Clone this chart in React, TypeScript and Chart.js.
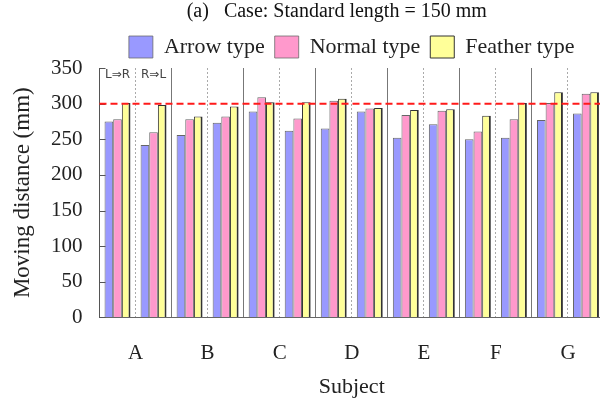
import React, { useEffect, useRef } from "react";
import { Chart, registerables } from "chart.js";

Chart.register(...registerables);

const subjects = ["A", "B", "C", "D", "E", "F", "G"];
const directions = ["L⇒R", "R⇒L"];
const seriesNames = ["Arrow type", "Normal type", "Feather type"];
const arrowType = [275, 242, 256, 273, 289, 262, 265, 289, 252, 271, 250, 252, 277, 286];
const normalType = [278, 260, 278, 282, 309, 279, 304, 293, 284, 290, 261, 278, 301, 314];
const featherType = [301, 298, 282, 296, 302, 302, 307, 294, 291, 292, 283, 301, 316, 316];
const standardValue = 300;
const yTicks = [0, 50, 100, 150, 200, 250, 300, 350];

const halfLabels: string[] = [];
subjects.forEach((s) => directions.forEach((d) => halfLabels.push(s + " " + d)));

const SERIF = "'Liberation Serif', 'Times New Roman', serif";

const overlayPlugin = {
  id: "overlay",
  afterDatasetsDraw(chart: any) {
    const { ctx, chartArea, scales } = chart;
    const x = scales.x;
    const y = scales.y;
    ctx.save();
    ctx.strokeStyle = "#555";
    ctx.lineWidth = 1;
    y.ticks.forEach((_t: any, i: number) => {
      const py = Math.round(y.getPixelForTick(i)) + 0.5;
      ctx.beginPath();
      ctx.moveTo(chartArea.left, py);
      ctx.lineTo(chartArea.left + 6, py);
      ctx.stroke();
    });
    const yp = y.getPixelForValue(standardValue);
    ctx.strokeStyle = "#ff1a1a";
    ctx.lineWidth = 2;
    ctx.setLineDash([7, 4]);
    ctx.beginPath();
    ctx.moveTo(chartArea.left, yp);
    ctx.lineTo(chartArea.right, yp);
    ctx.stroke();
    ctx.setLineDash([]);
    ctx.fillStyle = "#444";
    ctx.font = "12px 'DejaVu Sans', sans-serif";
    ctx.textAlign = "center";
    ctx.textBaseline = "top";
    directions.forEach((d, i) => {
      ctx.fillText(d, x.getPixelForValue(i), chartArea.top + 1);
    });
    ctx.restore();
  },
};

export default function App() {
  const ref = useRef<HTMLCanvasElement | null>(null);
  useEffect(() => {
    document.body.style.margin = "0";
    const canvas = ref.current!;
    const colors = ["#9999ff", "#ff99cc", "#ffff99"];
    const values = [arrowType, normalType, featherType];
    const chart = new Chart(canvas, {
      type: "bar",
      data: {
        labels: halfLabels,
        datasets: values.map((v, i) => ({
          label: seriesNames[i],
          data: v,
          backgroundColor: colors[i],
          borderColor: i === 2 ? "#333" : "#666",
          borderWidth: i === 2 ? { top: 1, left: 1, right: 2, bottom: 0 } : { top: 1, left: 1, right: 1, bottom: 0 },
          categoryPercentage: 0.72,
          barPercentage: 1,
        })),
      },
      options: {
        responsive: false,
        animation: false,
        devicePixelRatio: 1,
        layout: { padding: { left: 11, top: 0, right: 0, bottom: 0 } },
        plugins: {
          title: {
            display: true,
            text: "(a)   Case: Standard length = 150 mm      ",
            fullSize: false,
            color: "#111",
            font: { family: SERIF, size: 20, weight: "normal" },
            padding: { top: 0, bottom: 2 },
          },
          legend: {
            display: true,
            fullSize: false,
            labels: {
              boxWidth: 24,
              boxHeight: 22,
              padding: 10,
              color: "#222",
              font: { family: SERIF, size: 22 },
            },
          },
          tooltip: { enabled: false },
        },
        scales: {
          x: {
            type: "category",
            offset: true,
            weight: 0,
            grid: {
              offset: true,
              drawTicks: false,
              lineWidth: 1,
              color: (c: any) => (c.index === undefined || c.index % 2 === 0 ? "#777" : "#aaa"),
            },
            border: {
              display: true,
              color: "#666",
              dash: (c: any) => (c.index === undefined || c.index % 2 === 0 ? [] : [2, 2]),
            },
            ticks: { display: false },
          },
          xl: {
            type: "category",
            position: "bottom",
            labels: subjects,
            offset: true,
            weight: 1,
            grid: { display: false, drawTicks: false },
            border: { display: false },
            ticks: {
              padding: 23,
              color: "#222",
              font: { family: SERIF, size: 21 },
            },
            title: {
              display: true,
              text: "Subject",
              color: "#222",
              font: { family: SERIF, size: 22 },
              padding: { top: -15, bottom: 0 },
            },
          },
          y: {
            min: 0,
            max: 350,
            afterBuildTicks: (scale: any) => {
              scale.ticks = yTicks.map((v) => ({ value: v }));
            },
            grid: { drawOnChartArea: false, drawTicks: false },
            border: { display: true, color: "#555" },
            ticks: {
              padding: 17,
              color: "#222",
              font: { family: SERIF, size: 21 },
            },
            title: {
              display: true,
              text: "Moving distance (mm)",
              color: "#222",
              font: { family: SERIF, size: 23, lineHeight: 1 },
              padding: { top: 0, bottom: 0 },
            },
          },
        },
      } as any,
      plugins: [overlayPlugin],
    });
    return () => chart.destroy();
  }, []);
  return (
    <div style={{ position: "fixed", left: 0, top: 0, width: 600, height: 400, overflow: "hidden", background: "#fff" }}>
      <canvas ref={ref} width={604} height={400} style={{ display: "block" }} />
    </div>
  );
}
